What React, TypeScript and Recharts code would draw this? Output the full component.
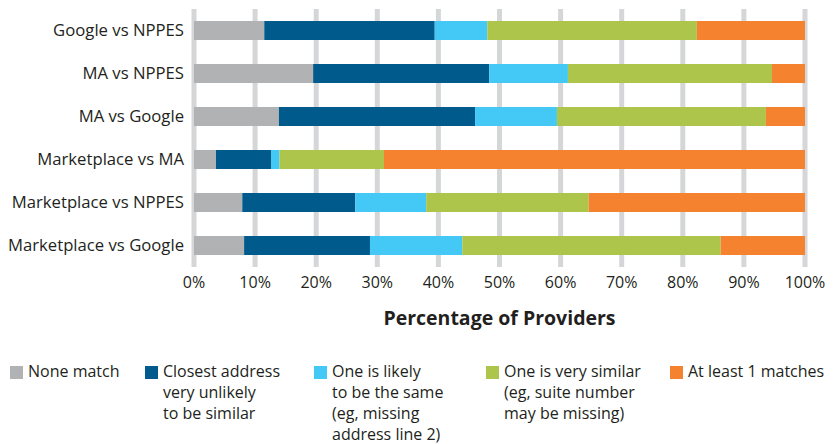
import { BarChart, Bar, XAxis, YAxis, CartesianGrid, Legend } from 'recharts'

const comparisons = [
  'Google vs NPPES',
  'MA vs NPPES',
  'MA vs Google',
  'Marketplace vs MA',
  'Marketplace vs NPPES',
  'Marketplace vs Google',
]

const noneMatch = [11.5, 19.5, 13.9, 3.6, 7.9, 8.2]
const closestUnlikely = [27.9, 28.8, 32.1, 9.0, 18.5, 20.6]
const likelySame = [8.6, 12.9, 13.4, 1.4, 11.6, 15.1]
const verySimilar = [34.3, 33.4, 34.2, 17.1, 26.6, 42.3]
const atLeastOne = [17.7, 5.4, 6.4, 68.9, 35.4, 13.8]

const xTicks = [0, 10, 20, 30, 40, 50, 60, 70, 80, 90, 100]

const series = [
  { key: 'none', name: 'None match', color: '#b1b2b4', lines: ['None match'] },
  { key: 'closest', name: 'Closest address very unlikely to be similar', color: '#015a8c', lines: ['Closest address', 'very unlikely', 'to be similar'] },
  { key: 'likely', name: 'One is likely to be the same', color: '#44c8f5', lines: ['One is likely', 'to be the same', '(eg, missing', 'address line 2)'] },
  { key: 'similar', name: 'One is very similar', color: '#adc54a', lines: ['One is very similar', '(eg, suite number', 'may be missing)'] },
  { key: 'match', name: 'At least 1 matches', color: '#f4822f', lines: ['At least 1 matches'] },
]

const legendX = [10, 145, 314, 486, 670]

const data = comparisons.map((name, i) => ({
  name,
  none: noneMatch[i],
  closest: closestUnlikely[i],
  likely: likelySame[i],
  similar: verySimilar[i],
  match: atLeastOne[i],
}))

const FONT = '"Open Sans", sans-serif'
const TEXT = '#231f20'

function LegendBlock() {
  return (
    <div style={{ position: 'relative', width: 840, height: 444, fontFamily: FONT }}>
      {series.map((s, i) => (
        <div key={s.key} style={{ position: 'absolute', left: legendX[i], top: 361 }}>
          <div style={{ position: 'absolute', left: 0, top: 5, width: 13, height: 13, background: s.color }} />
          <div style={{ marginLeft: 18, fontSize: 16, lineHeight: '21px', color: TEXT, whiteSpace: 'nowrap' }}>
            {s.lines.map((l) => (
              <div key={l}>{l}</div>
            ))}
          </div>
        </div>
      ))}
    </div>
  )
}

export default function App() {
  return (
    <div style={{ position: 'absolute', left: 0, top: 0, background: '#fff' }}>
      <BarChart
        width={840}
        height={444}
        data={data}
        layout="vertical"
        margin={{ top: 9, right: 35, left: 0, bottom: 147 }}
        barCategoryGap={24}
      >
        <CartesianGrid horizontal={false} stroke="#d5d6d8" strokeWidth={5} />
        <XAxis
          type="number"
          domain={[0, 100]}
          ticks={xTicks}
          tickFormatter={(v) => `${v}%`}
          axisLine={false}
          tickLine={false}
          tickMargin={4}
          height={30}
          interval={0}
          tick={{ fill: TEXT, fontSize: 16, fontFamily: FONT }}
          label={{
            value: 'Percentage of Providers',
            position: 'bottom',
            offset: 14,
            style: { fill: TEXT, fontSize: 19.5, fontWeight: 700, fontFamily: FONT },
          }}
        />
        <YAxis
          type="category"
          dataKey="name"
          width={194}
          axisLine={false}
          tickLine={false}
          tickMargin={4}
          interval={0}
          tick={{ fill: TEXT, fontSize: 16.7, fontFamily: FONT }}
        />
        {series.map((s) => (
          <Bar key={s.key} dataKey={s.key} name={s.name} stackId="a" fill={s.color} barSize={19} isAnimationActive={false} />
        ))}
        <Legend
          layout="horizontal"
          verticalAlign="middle"
          align="center"
          wrapperStyle={{ top: 0, left: 0, width: 840, height: 444, pointerEvents: 'none' }}
          content={() => <LegendBlock />}
        />
      </BarChart>
    </div>
  )
}
